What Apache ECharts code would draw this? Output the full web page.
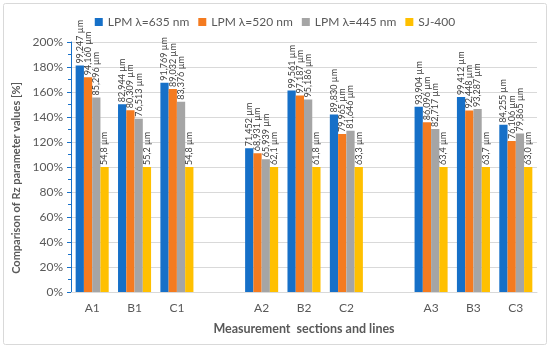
<!DOCTYPE html>
<html>
<head>
<meta charset="utf-8">
<script src="https://cdn.jsdelivr.net/npm/echarts@6/dist/echarts.min.js"></script>
<style>
html,body{margin:0;padding:0;background:#fff;}
#c{width:550px;height:349px;}
</style>
</head>
<body>
<div id="c"></div>
<script>
// Categories (empty strings are the gaps between measurement groups)
const categories = ['A1','B1','C1','','A2','B2','C2','','A3','B3','C3'];
// Rz values in µm (null = gap)
const rz635 = [99.247, 82.944, 91.769, null, 71.452, 99.561, 89.830, null, 93.904, 99.412, 84.255];
const rz520 = [94.160, 80.309, 89.032, null, 68.931, 97.187, 79.965, null, 86.096, 92.448, 76.106];
const rz445 = [85.296, 76.513, 83.376, null, 65.939, 95.186, 81.646, null, 82.717, 93.287, 79.865];
const rzSJ  = [54.8, 55.2, 54.8, null, 62.1, 61.8, 63.3, null, 63.4, 63.7, 63.0];
const seriesNames = ['LPM λ=635 nm','LPM λ=520 nm','LPM λ=445 nm','SJ-400'];
const yTicks = [0, 200, 20]; // min, max, interval (%)

const colors = ['#1670c8','#f47b20','#a5a5a5','#ffc000'];
const raw = [rz635, rz520, rz445, rzSJ];

function pct(arr){
  return arr.map((v,i)=> v==null ? null : v / rzSJ[i] * 100);
}
function fmt(v, d){ return v.toFixed(d).replace('.', ',') + ' µm'; }

const FONT = 'Lato, "Open Sans", sans-serif';

const series = raw.map((arr, si) => ({
  name: seriesNames[si],
  type: 'bar',
  data: pct(arr),
  itemStyle: {color: colors[si]},
  barGap: '0%',
  barCategoryGap: '22%',
  label: {
    show: true,
    position: 'top',
    rotate: 90,
    align: 'left',
    verticalAlign: 'middle',
    distance: 2,
    fontSize: 9,
    fontFamily: FONT,
    color: '#404040',
    formatter: p => p.value == null ? '' : fmt(arr[p.dataIndex], si === 3 ? 1 : 3)
  }
}));

const chart = echarts.init(document.getElementById('c'), null, {renderer: 'canvas'});
chart.setOption({
  animation: false,
  textStyle: {fontFamily: FONT},
  graphic: [{
    type: 'rect',
    shape: {x: 3.5, y: 3.5, width: 543, height: 341, r: 2},
    style: {fill: 'none', stroke: '#d9d9d9', lineWidth: 1},
    silent: true, z: -10
  }],
  legend: {
    top: 11,
    left: 'center',
    itemWidth: 8,
    itemHeight: 8,
    itemGap: 9,
    icon: 'rect',
    textStyle: {fontSize: 12, color: '#595959', fontFamily: FONT},
    data: seriesNames
  },
  grid: {left: 71, right: 13, top: 42, bottom: 57, containLabel: false},
  xAxis: {
    type: 'category',
    data: categories,
    name: 'Measurement  sections and lines',
    nameLocation: 'middle',
    nameGap: 30,
    nameTextStyle: {fontSize: 12.5, fontWeight: 'bold', color: '#595959', fontFamily: FONT},
    axisLine: {lineStyle: {color: '#d9d9d9'}},
    axisTick: {show: false},
    axisLabel: {fontSize: 12, color: '#595959', margin: 10, interval: 0, fontFamily: FONT},
    splitLine: {show: false}
  },
  yAxis: {
    type: 'value',
    min: yTicks[0],
    max: yTicks[1],
    interval: yTicks[2],
    name: 'Comparison of Rz parameter values [%]',
    nameLocation: 'middle',
    nameGap: 43,
    nameTextStyle: {fontSize: 11, fontWeight: 'bold', color: '#595959', fontFamily: FONT, padding: [0, 22, 0, 0]},
    axisLine: {show: true, lineStyle: {color: '#1670c8'}},
    axisTick: {show: true, length: 4, lineStyle: {color: '#1670c8'}},
    minorTick: {show: true, splitNumber: 2, length: 3, lineStyle: {color: '#1670c8'}},
    axisLabel: {fontSize: 12, color: '#595959', margin: 8, formatter: v => v + '%', fontFamily: FONT},
    splitLine: {lineStyle: {color: '#d9d9d9'}}
  },
  series: series
});
</script>
</body>
</html>
